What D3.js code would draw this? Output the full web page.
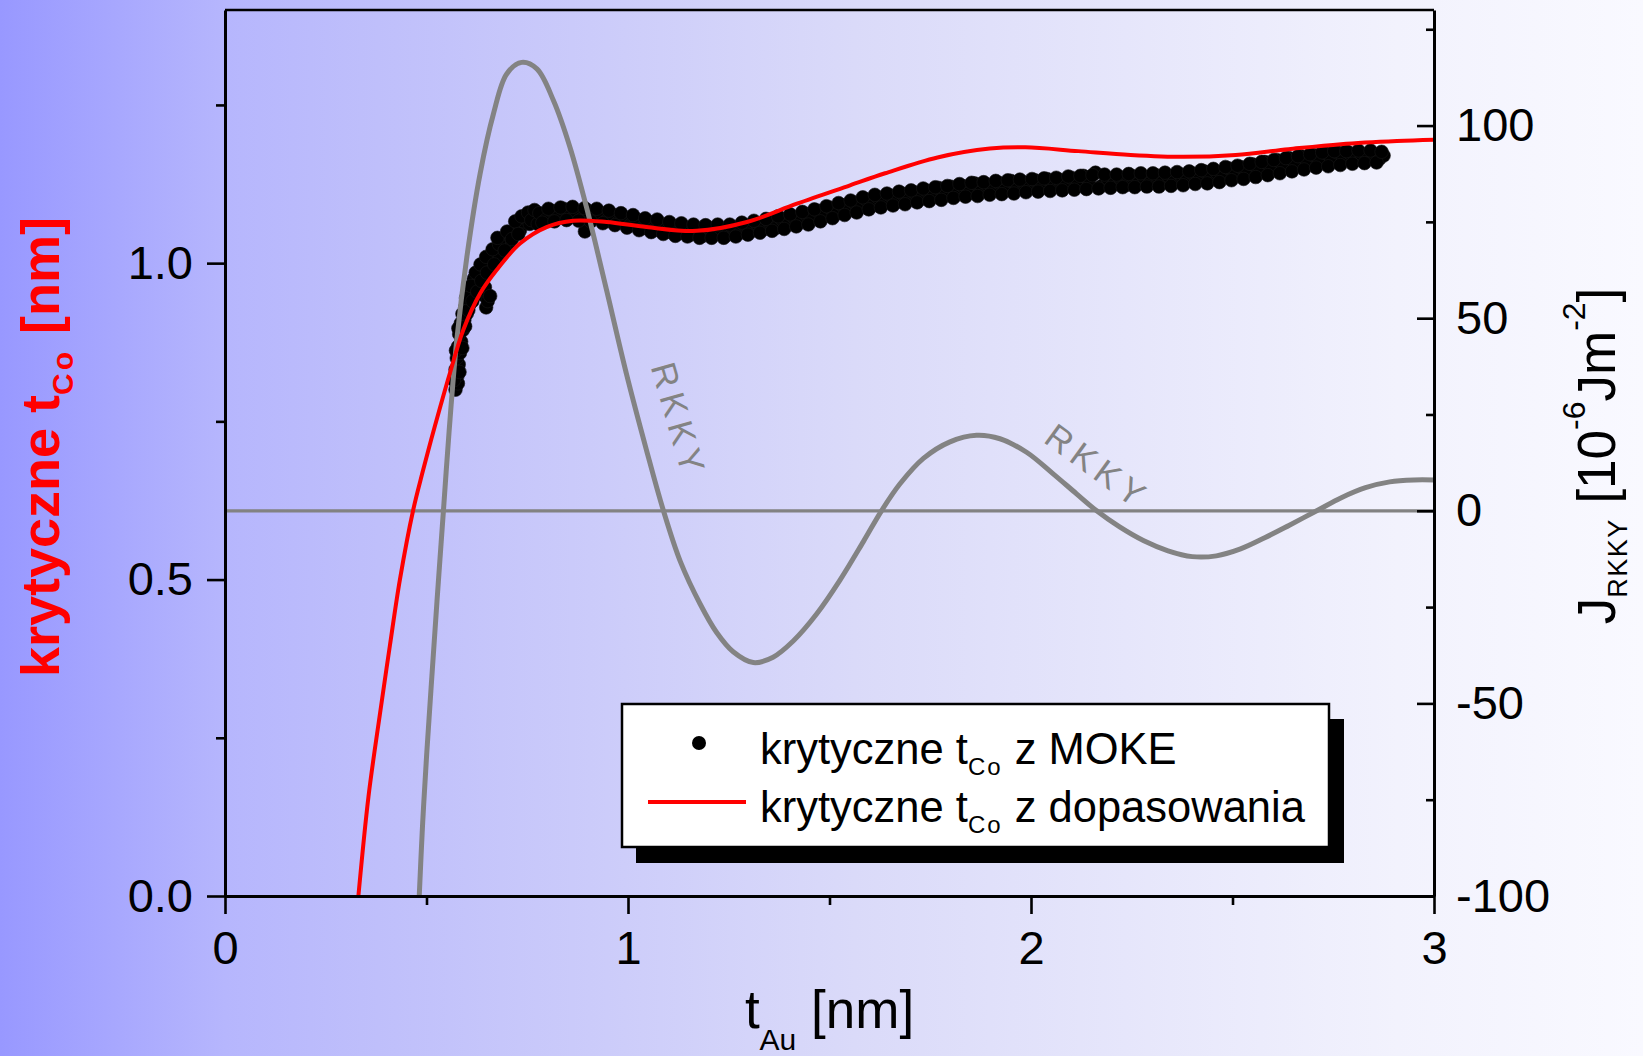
<!DOCTYPE html>
<html><head><meta charset="utf-8">
<script src="https://cdn.jsdelivr.net/npm/d3@7"></script>
<style>
html,body{margin:0;padding:0;overflow:hidden;background:#fff;}
svg{display:block;}
text{font-family:"Liberation Sans",Arial,Helvetica,sans-serif;}
</style>
</head><body>
<svg id="chart" width="1643" height="1056"></svg>
<script>
// ---------- data ----------
// x: t_Au [nm]; left y: krytyczne t_Co [nm]; right y: J_RKKY [1e-6 J m^-2]
const xMajorTicks = [0, 1, 2, 3];
const xMinorTicks = [0.5, 1.5, 2.5];
const leftMajorTicks = [0.0, 0.5, 1.0];
const leftMinorTicks = [0.25, 0.75, 1.25];
const rightMajorTicks = [-100, -50, 0, 50, 100];
const rightMinorTicks = [-75, -25, 25, 75, 125];

const legendLabels = ["krytyczne t", "Co", " z MOKE", " z dopasowania"];

// measured critical thickness (MOKE) points
const mokePoints = [
[0.572,0.800],[0.578,0.810],[0.577,0.822],[0.572,0.832],[0.580,0.840],[0.575,0.850],[0.583,0.858],[0.578,0.868],
[0.586,0.876],[0.581,0.888],[0.590,0.894],[0.585,0.905],[0.594,0.910],[0.600,0.920],[0.596,0.930],[0.607,0.935],
[0.612,0.946],[0.606,0.954],[0.618,0.958],[0.624,0.968],[0.617,0.975],[0.630,0.980],[0.638,0.984],[0.640,0.950],
[0.645,0.962],[0.648,0.930],[0.652,0.940],[0.658,0.948],[0.644,0.994],[0.654,1.000],[0.664,1.008],[0.660,0.996],
[0.674,1.016],[0.682,1.010],[0.688,1.026],[0.696,1.034],[0.704,1.030],[0.708,1.044],[0.716,1.050],[0.724,1.058],
[0.732,1.052],[0.740,1.066],[0.748,1.072],[0.756,1.062],[0.764,1.078],[0.772,1.068],
[0.568,0.815],[0.582,0.828],[0.573,0.862],[0.589,0.866],[0.579,0.897],[0.596,0.900],[0.589,0.920],[0.604,0.926],
[0.598,0.945],[0.614,0.940],[0.610,0.964],[0.626,0.955],[0.622,0.985],[0.636,0.972],[0.634,0.998],[0.650,0.985],
[0.648,1.010],[0.668,0.998],[0.664,1.022],[0.680,1.030],[0.676,1.040],[0.694,1.020],[0.700,1.050],[0.712,1.038],
[0.720,1.066],[0.728,1.046],[0.736,1.074],[0.752,1.080],[0.760,1.068],[0.768,1.084],[0.776,1.062],
[0.780,1.079],[0.795,1.068],[0.810,1.083],[0.825,1.072],[0.840,1.086],[0.855,1.074],[0.870,1.082],[0.885,1.070],
[0.893,1.050],[0.900,1.083],[0.915,1.071],[0.930,1.080],[0.945,1.066],[0.960,1.077],[0.975,1.064],[0.990,1.073],
[1.005,1.060],[1.020,1.070],[1.035,1.055],[1.050,1.066],[1.065,1.052],[1.080,1.062],[1.095,1.049],[1.110,1.060],
[1.125,1.047],[1.140,1.057],[1.155,1.045],[1.170,1.055],[1.185,1.043],[1.200,1.056],[1.215,1.045],[1.230,1.054],
[1.245,1.044],[1.260,1.057],[1.275,1.047],[1.290,1.060],[1.305,1.050],[1.320,1.062],[1.335,1.053],[1.350,1.066],
[1.365,1.055],[1.380,1.070],[1.395,1.060],[1.410,1.073],[1.425,1.064],[1.440,1.078],[1.455,1.068],[1.470,1.083],
[1.485,1.073],[1.500,1.088],[1.515,1.077],[1.530,1.092],[1.545,1.082],[1.560,1.096],[1.575,1.087],[1.590,1.101],
[1.605,1.090],[1.620,1.104],[1.635,1.094],[1.650,1.107],[1.665,1.096],[1.680,1.110],[1.695,1.099],[1.710,1.112],
[1.725,1.101],[1.740,1.115],[1.755,1.104],[1.770,1.119],[1.785,1.106],[1.800,1.121],[1.815,1.108],[1.830,1.122],
[1.845,1.110],[1.860,1.126],[1.875,1.112],[1.890,1.124],[1.905,1.114],[1.920,1.127],[1.935,1.115],[1.950,1.130],
[1.965,1.116],[1.980,1.128],[1.995,1.118],[2.010,1.131],[2.025,1.119],[2.040,1.133],[2.055,1.120],[2.070,1.132],
[2.085,1.121],[2.100,1.135],[2.115,1.122],[2.130,1.138],[2.145,1.124],[2.160,1.143],[2.175,1.122],[2.190,1.134],
[2.205,1.124],[2.220,1.136],[2.235,1.123],[2.250,1.138],[2.265,1.125],[2.280,1.136],[2.295,1.126],[2.310,1.139],
[2.325,1.127],[2.340,1.138],[2.355,1.128],[2.370,1.140],[2.385,1.129],[2.400,1.142],[2.415,1.131],[2.430,1.145],
[2.445,1.133],[2.460,1.144],[2.475,1.135],[2.490,1.150],[2.505,1.138],[2.520,1.152],[2.535,1.142],[2.550,1.156],
[2.565,1.146],[2.580,1.160],[2.595,1.150],[2.610,1.163],[2.625,1.153],[2.640,1.166],[2.655,1.157],[2.670,1.169],
[2.685,1.160],[2.700,1.171],[2.715,1.162],[2.730,1.174],[2.745,1.164],[2.760,1.175],[2.775,1.165],[2.790,1.174],
[2.805,1.163],[2.820,1.172],[2.835,1.164],[2.850,1.171],[2.865,1.165],[2.875,1.170],
[0.7875,1.064],[0.8025,1.086],[0.8175,1.066],[0.8325,1.088],[0.8475,1.068],[0.8625,1.089],[0.8775,1.067],[0.8925,1.087],
[0.9075,1.066],[0.9225,1.086],[0.9375,1.063],[0.9525,1.083],[0.9675,1.060],[0.9825,1.079],[0.9975,1.056],[1.0125,1.076],
[1.0275,1.052],[1.0425,1.071],[1.0575,1.049],[1.0725,1.069],[1.0875,1.046],[1.1025,1.065],[1.1175,1.043],[1.1325,1.063],
[1.1475,1.042],[1.1625,1.061],[1.1775,1.040],[1.1925,1.060],[1.2075,1.040],[1.2225,1.061],[1.2375,1.040],[1.2525,1.061],
[1.2675,1.042],[1.2825,1.064],[1.2975,1.045],[1.3125,1.067],[1.3275,1.048],[1.3425,1.070],[1.3575,1.051],[1.3725,1.074],
[1.3875,1.054],[1.4025,1.077],[1.4175,1.058],[1.4325,1.081],[1.4475,1.061],[1.4625,1.085],[1.4775,1.066],[1.4925,1.090],
[1.5075,1.071],[1.5225,1.095],[1.5375,1.076],[1.5525,1.099],[1.5675,1.080],[1.5825,1.104],[1.5975,1.085],[1.6125,1.108],
[1.6275,1.088],[1.6425,1.110],[1.6575,1.091],[1.6725,1.113],[1.6875,1.093],[1.7025,1.115],[1.7175,1.096],[1.7325,1.118],
[1.7475,1.098],[1.7625,1.120],[1.7775,1.100],[1.7925,1.122],[1.8075,1.103],[1.8225,1.125],[1.8375,1.105],[1.8525,1.127],
[1.8675,1.106],[1.8825,1.128],[1.8975,1.108],[1.9125,1.130],[1.9275,1.109],[1.9425,1.131],[1.9575,1.110],[1.9725,1.132],
[1.9875,1.112],[2.0025,1.133],[2.0175,1.113],[2.0325,1.134],[2.0475,1.114],[2.0625,1.135],[2.0775,1.115],[2.0925,1.137],
[2.1075,1.116],[2.1225,1.138],[2.1375,1.117],[2.1525,1.139],[2.1675,1.118],[2.1825,1.140],[2.1975,1.119],[2.2125,1.140],
[2.2275,1.120],[2.2425,1.141],[2.2575,1.120],[2.2725,1.142],[2.2875,1.121],[2.3025,1.142],[2.3175,1.121],[2.3325,1.143],
[2.3475,1.122],[2.3625,1.144],[2.3775,1.123],[2.3925,1.145],[2.4075,1.125],[2.4225,1.147],[2.4375,1.126],[2.4525,1.149],
[2.4675,1.128],[2.4825,1.152],[2.4975,1.131],[2.5125,1.154],[2.5275,1.133],[2.5425,1.157],[2.5575,1.136],[2.5725,1.160],
[2.5875,1.139],[2.6025,1.163],[2.6175,1.142],[2.6325,1.166],[2.6475,1.145],[2.6625,1.169],[2.6775,1.148],[2.6925,1.172],
[2.7075,1.151],[2.7225,1.175],[2.7375,1.153],[2.7525,1.177],[2.7675,1.155],[2.7825,1.177],[2.7975,1.157],[2.8125,1.178],
[2.8275,1.158],[2.8425,1.178],[2.8575,1.159],[2.8700,1.176]
];

// fitted critical thickness (red line)
const fitPoints = [
[0.331,0.000],[0.356,0.157],[0.385,0.290],[0.409,0.395],[0.434,0.500],[0.467,0.610],[0.490,0.669],[0.512,0.722],
[0.535,0.775],[0.558,0.826],[0.591,0.894],[0.633,0.952],[0.674,0.989],[0.732,1.031],[0.798,1.057],[0.864,1.067],
[0.947,1.065],[1.046,1.057],[1.171,1.051],[1.295,1.065],[1.419,1.094],[1.551,1.123],[1.638,1.142],[1.768,1.167],
[1.898,1.181],[1.986,1.183],[2.117,1.177],[2.247,1.171],[2.378,1.168],[2.508,1.171],[2.639,1.180],[2.769,1.188],
[2.908,1.193],[3.000,1.195]
];

// RKKY coupling (gray line, right axis)
const rkkyPoints = [
[0.482,-100],[0.490,-82],[0.500,-64],[0.512,-45],[0.526,-23.5],[0.542,0],[0.556,20.5],[0.575,44.2],
[0.600,65.8],[0.633,87.5],[0.666,103.0],[0.699,113.4],[0.736,116.4],[0.774,114.7],[0.815,106.5],[0.856,94.4],
[0.897,78.8],[0.947,57.2],[0.996,35.6],[1.046,15.7],[1.088,0],[1.130,-13.2],[1.179,-24.2],[1.220,-31.6],
[1.261,-36.6],[1.311,-39.4],[1.360,-38.0],[1.410,-33.8],[1.468,-26.8],[1.526,-18.0],[1.584,-8.0],[1.629,0],
[1.675,7.0],[1.733,13.6],[1.799,17.9],[1.865,19.6],[1.923,18.7],[1.989,15.2],[2.055,9.6],[2.113,4.4],
[2.163,0],[2.220,-4.2],[2.280,-7.8],[2.340,-10.4],[2.400,-11.9],[2.460,-11.7],[2.520,-9.9],[2.580,-7.0],
[2.640,-3.8],[2.709,0],[2.770,3.4],[2.830,6.0],[2.890,7.5],[2.950,8.0],[3.000,8.0]
];

// ---------- layout ----------
const W = 1643, H = 1056;
const X0 = 225, X1 = 1434, YT = 10, YB = 896;
const svg = d3.select("#chart");

const x = d3.scaleLinear().domain([0, 3]).range([X0, X1]);
const yL = d3.scaleLinear().domain([0, 1.4]).range([YB, YT]);
const yR = d3.scaleLinear().domain([-100, 130]).range([YB, YT]);

const defs = svg.append("defs");
const grad = defs.append("linearGradient").attr("id", "bg").attr("x1", 0).attr("x2", 1).attr("y1", 0).attr("y2", 0);
[[0, "#9898ff"], [0.137, "#b6b6fd"], [0.23, "#bfbffb"], [0.52, "#dadaf9"], [0.85, "#f2f2fd"], [1, "#f9f9ff"]]
  .forEach(([o, c]) => grad.append("stop").attr("offset", o).attr("stop-color", c));
defs.append("clipPath").attr("id", "plotclip").append("rect")
  .attr("x", X0).attr("y", YT).attr("width", X1 - X0).attr("height", YB - YT);

svg.append("rect").attr("width", W).attr("height", H).attr("fill", "url(#bg)");

const plot = svg.append("g").attr("clip-path", "url(#plotclip)");

// zero line of the right axis
plot.append("line").attr("x1", x(0)).attr("x2", x(3)).attr("y1", yR(0)).attr("y2", yR(0))
  .attr("stroke", "#828282").attr("stroke-width", 3.2);

// MOKE points
plot.append("g").selectAll("circle").data(mokePoints).join("circle")
  .attr("cx", d => x(d[0])).attr("cy", d => yL(d[1])).attr("r", 6.8)
  .attr("fill", "#000").attr("stroke", "#151515").attr("stroke-width", 0.6);

// RKKY curve
const lineR = d3.line().x(d => x(d[0])).y(d => yR(d[1])).curve(d3.curveCatmullRom.alpha(0.5));
plot.append("path").datum(rkkyPoints).attr("d", lineR)
  .attr("fill", "none").attr("stroke", "#838383").attr("stroke-width", 5);

// fit curve
const lineL = d3.line().x(d => x(d[0])).y(d => yL(d[1])).curve(d3.curveCatmullRom.alpha(0.5));
plot.append("path").datum(fitPoints).attr("d", lineL)
  .attr("fill", "none").attr("stroke", "#ff0000").attr("stroke-width", 4);

// RKKY labels
const rkkyLabels = [
  {t: 1.127, j: 23.5, angle: 74},
  {t: 2.166, j: 11.5, angle: 36}
];
svg.selectAll("text.rk").data(rkkyLabels).join("text").attr("class", "rk")
  .attr("transform", d => `translate(${x(d.t)},${yR(d.j)}) rotate(${d.angle})`)
  .attr("text-anchor", "middle").attr("dy", "0.36em")
  .attr("font-size", 35).attr("letter-spacing", 6).attr("fill", "#838383")
  .text("RKKY");

// ---------- axes ----------
function styleAxis(g, fs) {
  g.attr("font-size", fs).attr("font-family", '"Liberation Sans",Arial,sans-serif');
  g.selectAll(".domain").attr("stroke", "#000").attr("stroke-width", 3);
  g.selectAll(".tick line").attr("stroke", "#000").attr("stroke-width", 2.6);
  g.selectAll(".tick text").attr("fill", "#000");
}
// bottom
const gxMinor = svg.append("g").attr("transform", `translate(0,${YB})`)
  .call(d3.axisBottom(x).tickValues(xMinorTicks).tickSize(9).tickFormat(""));
gxMinor.select(".domain").remove(); styleAxis(gxMinor, 47);
const gx = svg.append("g").attr("transform", `translate(0,${YB})`)
  .call(d3.axisBottom(x).tickValues(xMajorTicks).tickSizeInner(18).tickSizeOuter(0).tickPadding(17).tickFormat(d3.format("d")));
styleAxis(gx, 47);
// left
const gyMinor = svg.append("g").attr("transform", `translate(${X0},0)`)
  .call(d3.axisLeft(yL).tickValues(leftMinorTicks).tickSize(9).tickFormat(""));
gyMinor.select(".domain").remove(); styleAxis(gyMinor, 47);
const gy = svg.append("g").attr("transform", `translate(${X0},0)`)
  .call(d3.axisLeft(yL).tickValues(leftMajorTicks).tickSizeInner(18).tickSizeOuter(0).tickPadding(14).tickFormat(d3.format(".1f")));
styleAxis(gy, 47);
// right
const grMinor = svg.append("g").attr("transform", `translate(${X1},0)`)
  .call(d3.axisRight(yR).tickValues(rightMinorTicks).tickSizeInner(-8).tickSizeOuter(0).tickFormat(""));
grMinor.select(".domain").remove(); styleAxis(grMinor, 47);
const gr = svg.append("g").attr("transform", `translate(${X1},0)`)
  .call(d3.axisRight(yR).tickValues(rightMajorTicks).tickSizeInner(-17).tickSizeOuter(0).tickPadding(22).tickFormat(d => String(d)));
styleAxis(gr, 47);
// top frame
svg.append("line").attr("x1", X0).attr("x2", X1).attr("y1", YT).attr("y2", YT)
  .attr("stroke", "#000").attr("stroke-width", 2.6);

// ---------- titles ----------
const xt = svg.append("text").attr("x", (X0 + X1) / 2).attr("y", 1028)
  .attr("text-anchor", "middle").attr("font-size", 53).attr("fill", "#000");
xt.append("tspan").text("t");
xt.append("tspan").attr("font-size", 30).attr("dy", 22).text("Au");
xt.append("tspan").attr("dy", -22).text(" [nm]");

const lt = svg.append("text").attr("transform", "translate(59,447) rotate(-90)")
  .attr("text-anchor", "middle").attr("font-size", 54).attr("font-weight", "bold").attr("fill", "#ff0000");
lt.append("tspan").text("krytyczne t");
lt.append("tspan").attr("font-size", 30).attr("letter-spacing", 3).attr("dy", 14).text("Co");
lt.append("tspan").attr("dy", -14).text(" [nm]");

const rt = svg.append("text").attr("transform", "translate(1615,456) rotate(-90)")
  .attr("text-anchor", "middle").attr("font-size", 53).attr("fill", "#000");
rt.append("tspan").text("J");
rt.append("tspan").attr("font-size", 27).attr("letter-spacing", 1.5).attr("dy", 12).text("RKKY");
rt.append("tspan").attr("dy", -12).text(" [10");
rt.append("tspan").attr("font-size", 32).attr("dy", -30).text("-6");
rt.append("tspan").attr("dy", 30).text("Jm");
rt.append("tspan").attr("font-size", 32).attr("dy", -30).text("-2");
rt.append("tspan").attr("dy", 30).text("]");

// ---------- legend ----------
const lg = svg.append("g");
lg.append("rect").attr("x", 636).attr("y", 719).attr("width", 708).attr("height", 144).attr("fill", "#000");
lg.append("rect").attr("x", 622).attr("y", 704).attr("width", 707).attr("height", 143)
  .attr("fill", "#fff").attr("stroke", "#000").attr("stroke-width", 2.5);
lg.append("circle").attr("cx", 699).attr("cy", 743).attr("r", 7).attr("fill", "#000");
lg.append("line").attr("x1", 648).attr("x2", 746).attr("y1", 802).attr("y2", 802)
  .attr("stroke", "#ff0000").attr("stroke-width", 4);
[[764, legendLabels[2]], [822, legendLabels[3]]].forEach(([yy, tail]) => {
  const t = lg.append("text").attr("x", 760).attr("y", yy).attr("font-size", 43.5).attr("fill", "#000");
  t.append("tspan").text(legendLabels[0]);
  t.append("tspan").attr("font-size", 24).attr("letter-spacing", 2).attr("dy", 11).text(legendLabels[1]);
  t.append("tspan").attr("dy", -11).text(tail);
});
</script>
</body></html>
